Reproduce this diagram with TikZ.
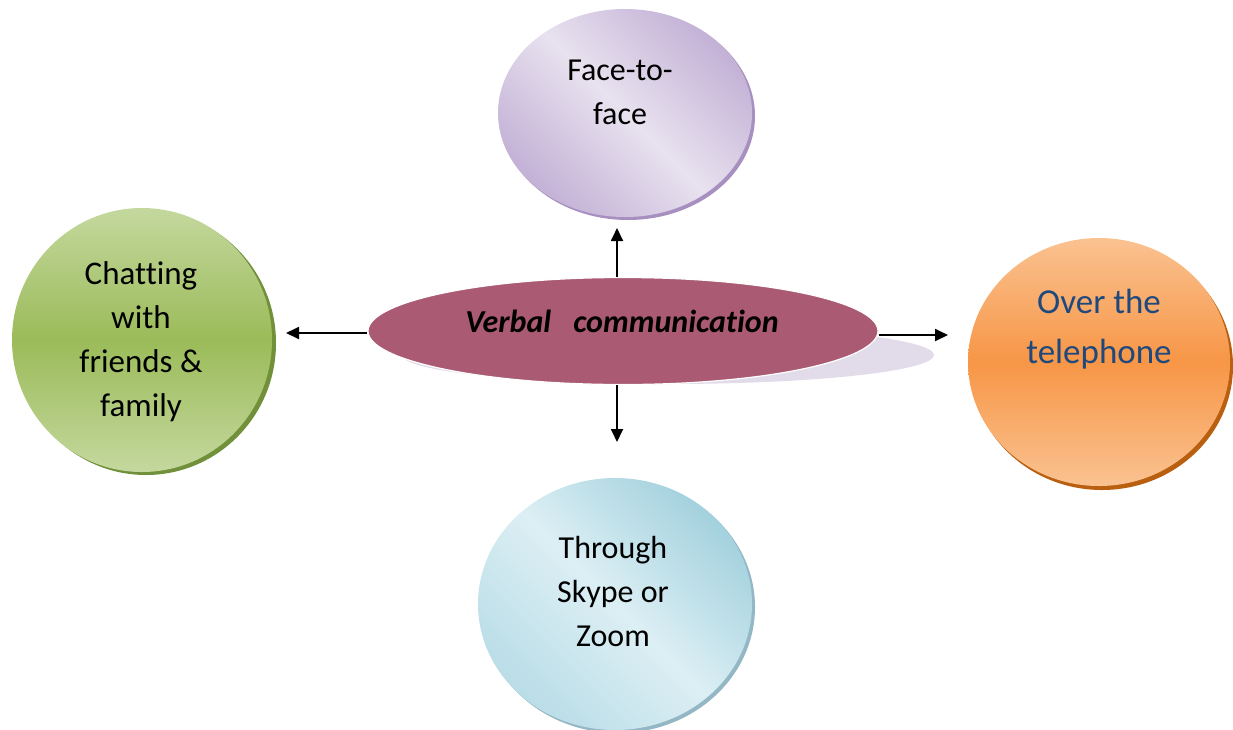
\documentclass[tikz,border=0pt]{standalone}
\usepackage{fontspec}
\setmainfont{Carlito}[Ligatures=NoCommon]
\usetikzlibrary{shapes.geometric,arrows.meta}

\definecolor{purpDark}{HTML}{C3B1D6}
\definecolor{purpLight}{HTML}{E8E2EF}
\definecolor{purpRim}{HTML}{A790BF}
\definecolor{greenLight}{HTML}{C4D89E}
\definecolor{greenMid}{HTML}{9BBB59}
\definecolor{greenRim}{HTML}{71903A}
\definecolor{orangeLight}{HTML}{FAC291}
\definecolor{orangeMid}{HTML}{F79646}
\definecolor{orangeRim}{HTML}{B8600F}
\definecolor{blueDark}{HTML}{A3D1DE}
\definecolor{blueLight}{HTML}{DCEFF4}
\definecolor{blueRim}{HTML}{93B7C4}
\definecolor{hubFill}{HTML}{AA5A72}
\definecolor{hubShadow}{HTML}{E2DCEA}
\definecolor{phoneText}{HTML}{1F497D}

\begin{document}
\begin{tikzpicture}[x=1pt,y=-1pt,
  bubble/.style={ellipse, inner sep=0pt, draw=none},
  txt/.style={align=center, font=\fontsize{32}{44}\selectfont},
  conn/.style={-{Triangle[length=13pt,width=12pt]}, line width=1.8pt, black}
]
\useasboundingbox (0,0) rectangle (1233,729);

% rims (drop shadows) behind the bubbles
\fill[purpRim]   (628,116) ellipse [x radius=127, y radius=104];
\fill[greenRim]  (146,343) ellipse [x radius=130, y radius=132];
\fill[orangeRim] (1102,366) ellipse [x radius=131, y radius=124];
\fill[blueRim]   (618,607) ellipse [x radius=137, y radius=126];

% the four outer bubbles
\node[bubble, minimum width=254pt, minimum height=208pt,
      top color=purpDark, bottom color=purpDark, middle color=purpLight,
      shading angle=-45] (face) at (625,113) {};
\node[bubble, minimum width=260pt, minimum height=264pt,
      top color=greenLight, bottom color=greenLight, middle color=greenMid] (chat) at (142,340) {};
\node[bubble, minimum width=262pt, minimum height=248pt,
      top color=orangeLight, bottom color=orangeLight, middle color=orangeMid] (phone) at (1099,362) {};
\node[bubble, minimum width=274pt, minimum height=252pt,
      top color=blueDark, bottom color=blueDark!60!blueLight, middle color=blueLight,
      shading angle=-45] (skype) at (615,604) {};

% central hub with its soft shadow
\fill[hubShadow] (668,355) ellipse [x radius=266, y radius=29];
\node[bubble, fill=hubFill, draw=white, line width=1.2pt,
      minimum width=510pt, minimum height=107pt] (hub) at (623,331) {};

% texts
\node[txt] (faceT)  at (620,92)  {Face-to-\\face};
\node[txt, font=\fontsize{33}{44}\selectfont] (chatT) at (141,342) {Chatting\\with\\friends \&\\family};
\node[txt, text=phoneText, font=\fontsize{35}{50}\selectfont] (phoneT) at (1099,329) {Over the\\telephone};
\node[txt] (skypeT) at (613,591) {Through\\Skype or\\Zoom};
\node[font=\fontsize{32}{38}\selectfont\bfseries\itshape] (hubT) at (622,321)
  {Verbal\hspace{22pt}communication};

% arrow tips
\coordinate (upTip)    at (617,228);
\coordinate (downTip)  at (617,442);
\coordinate (leftTip)  at (286,333);
\coordinate (rightTip) at (948,335);

\draw[conn] (hub.north -| upTip) -- (upTip);
\draw[conn] (hub.south -| downTip) -- (downTip);
\draw[conn] (hub.west |- leftTip) -- (leftTip);
\draw[conn] (hub.east |- rightTip) -- (rightTip);
\end{tikzpicture}
\end{document}
